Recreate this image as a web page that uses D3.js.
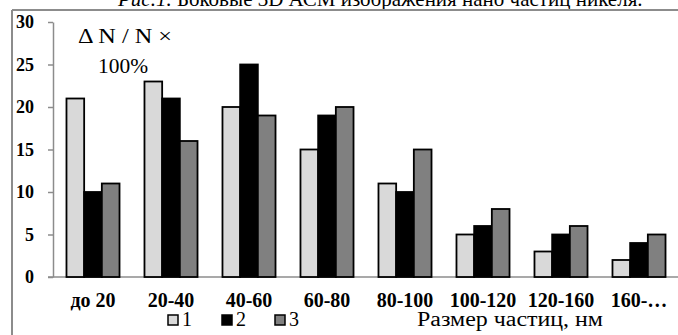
<!DOCTYPE html>
<html><head><meta charset="utf-8">
<script src="https://cdn.jsdelivr.net/npm/d3@7"></script>
<style>body{margin:0;background:#fff}svg{display:block}text{font-family:"Liberation Serif","Times New Roman",serif}</style>
</head><body>
<script>
const categories = ["до 20","20-40","40-60","60-80","80-100","100-120","120-160","160-…"];
const seriesNames = ["1","2","3"];
const series1 = [21,23,20,15,11,5,3,2];
const series2 = [10,21,25,19,10,6,5,4];
const series3 = [11,16,19,20,15,8,6,5];
const yTicks = [0,5,10,15,20,25,30];
const colors = ["#d9d9d9","#000000","#808080"];

const W=678,H=335;
const svg=d3.select("body").append("svg").attr("width",W).attr("height",H);
const FF='"Liberation Serif","Times New Roman",serif';

// caption (cropped at top)
const cap=svg.append("text").attr("x",118).attr("y",6).style("font-family",FF).attr("font-size",21).attr("fill","#000");
cap.append("tspan").attr("font-style","italic").text("Рис.1.");
cap.append("tspan").text(" Боковые 3D АСМ изображения нано частиц никеля.");

// frame
svg.append("line").attr("x1",12).attr("x2",W).attr("y1",10).attr("y2",10).attr("stroke","#8c8c8c").attr("stroke-width",2);
svg.append("line").attr("x1",12).attr("x2",12).attr("y1",10).attr("y2",H).attr("stroke","#8c8c8c").attr("stroke-width",2);

const x=d3.scaleBand().domain(categories).range([54,678]).paddingInner(0.32).paddingOuter(0.16);
const xs=d3.scaleBand().domain(seriesNames).range([0,x.bandwidth()]);
const y=d3.scaleLinear().domain([0,30]).range([277,22]);

// y axis
const ya=svg.append("g").attr("transform","translate(53,0)")
  .call(d3.axisLeft(y).tickValues(yTicks).tickSize(5).tickSizeOuter(0));
ya.select(".domain").attr("stroke","#8c8c8c").attr("stroke-width",1.5);
ya.selectAll(".tick line").attr("stroke","#8c8c8c").attr("stroke-width",1.5);
ya.selectAll(".tick text").attr("x",-19).style("font-family",FF).attr("font-size",18).attr("font-weight","bold").attr("fill","#000");

// x axis
const xa=svg.append("g").attr("transform","translate(0,277)")
  .call(d3.axisBottom(x).tickSize(0).tickSizeOuter(0));
xa.select(".domain").attr("d","M48,0H678").attr("stroke","#8c8c8c").attr("stroke-width",1.5);
xa.selectAll(".tick text").attr("y",30).attr("dy",null).style("font-family",FF).attr("font-size",20).attr("font-weight","bold").attr("fill","#000");

const data=[series1,series2,series3];
const g=svg.append("g");
categories.forEach((c,i)=>{
  seriesNames.forEach((s,j)=>{
    g.append("rect").attr("x",x(c)+xs(s)).attr("y",y(data[j][i]))
     .attr("width",xs.bandwidth()).attr("height",y(0)-y(data[j][i]))
     .attr("fill",colors[j]).attr("stroke","#000").attr("stroke-width",1.8);
  });
});

// y annotation
svg.append("text").attr("x",78).attr("y",43).style("font-family",FF).attr("font-size",20)
  .attr("textLength",94).attr("lengthAdjust","spacingAndGlyphs").text("Δ N / N ×");
svg.append("text").attr("x",98).attr("y",73).style("font-family",FF).attr("font-size",20)
  .attr("textLength",50).attr("lengthAdjust","spacingAndGlyphs").text("100%");

// legend
const legX=[168,222,275];
seriesNames.forEach((s,j)=>{
  svg.append("rect").attr("x",legX[j]).attr("y",315).attr("width",10).attr("height",10)
    .attr("fill",colors[j]).attr("stroke","#000").attr("stroke-width",1.5);
  svg.append("text").attr("x",legX[j]+14).attr("y",326).style("font-family",FF).attr("font-size",20).text(s);
});

// x title
svg.append("text").attr("x",417).attr("y",326).style("font-family",FF).attr("font-size",20)
  .attr("textLength",186).attr("lengthAdjust","spacingAndGlyphs").text("Размер частиц, нм");
</script>
</body></html>
